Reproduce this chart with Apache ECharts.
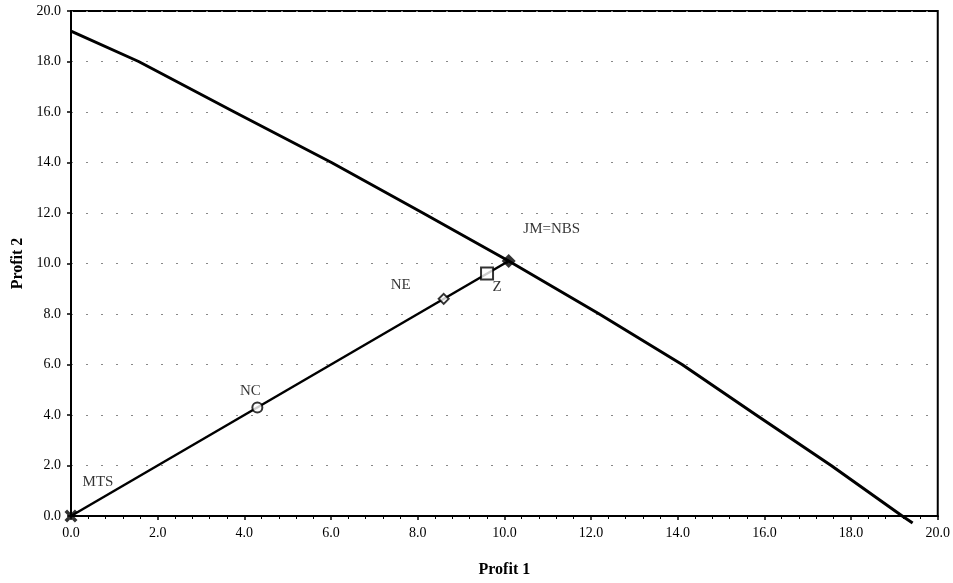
<!DOCTYPE html>
<html>
<head>
<meta charset="utf-8">
<script src="https://cdn.jsdelivr.net/npm/echarts@6/dist/echarts.min.js"></script>
<style>html,body{margin:0;padding:0;background:#fff;}#c{width:953px;height:583px;}</style>
</head>
<body>
<div id="c"></div>
<script>
// Data
const frontierX = [0, 1.56, 3.77, 6.01, 8.12, 10.1, 12.19, 14.1, 15.81, 17.54, 19.18, 19.42];
const frontierY = [19.2, 18.0, 16.0, 14.0, 12.0, 10.1, 8.0, 6.0, 4.0, 2.0, 0.0, -0.28];
const rayX = [0, 10.1];
const rayY = [0, 10.1];
const pointNames = ['MTS', 'NC', 'NE', 'Z', 'JM=NBS'];
const pointX = [0, 4.3, 8.6, 9.6, 10.1];
const pointY = [0, 4.3, 8.6, 9.6, 10.1];
const axisMin = 0, axisMax = 20, axisStep = 2;
const xTitle = 'Profit 1', yTitle = 'Profit 2';

const FONT = '"Liberation Serif", "DejaVu Serif", serif';
const xShape = 'path://M0,2L2,0L5,3L8,0L10,2L7,5L10,8L8,10L5,7L2,10L0,8L3,5Z';

// marker styles per point (visual only)
const markerStyle = {
  'MTS':    { symbol: xShape, size: 13, fill: '#000', offset: [27, -34] },
  'NC':     { symbol: 'circle', size: 10, fill: '#fff', offset: [-7, -16] },
  'NE':     { symbol: 'diamond', size: 10, fill: '#fff', offset: [-43, -14] },
  'Z':      { symbol: 'rect', size: 12, fill: '#fff', offset: [10, 13] },
  'JM=NBS': { symbol: 'diamond', size: 14, fill: '#000', offset: [43, -32] }
};

const pts = pointNames.map((n, i) => {
  const s = markerStyle[n];
  return {
    name: n,
    value: [pointX[i], pointY[i]],
    symbol: s.symbol,
    symbolSize: s.size,
    itemStyle: { color: s.fill, borderColor: '#000', borderWidth: s.fill === '#fff' ? 2 : 0 },
    label: { show: true, position: 'inside', offset: s.offset, formatter: n,
             color: '#000', textBorderWidth: 0, fontFamily: FONT, fontSize: 15 }
  };
});

const chart = echarts.init(document.getElementById('c'), null, { renderer: 'canvas' });
chart.setOption({
  backgroundColor: '#fff',
  animation: false,
  grid: { left: 71, right: 15, top: 11, bottom: 65, show: true, borderColor: '#000', borderWidth: 2, backgroundColor: 'transparent' },
  xAxis: {
    type: 'value', min: axisMin, max: axisMax, interval: axisStep,
    name: xTitle, nameLocation: 'middle', nameGap: 46,
    nameTextStyle: { fontFamily: FONT, fontSize: 16, fontWeight: 'bold', color: '#000' },
    axisLine: { show: true, onZero: false, lineStyle: { color: '#000', width: 2 } },
    axisTick: { show: true, length: 4, lineStyle: { color: '#000', width: 1.5 } },
    minorTick: { show: true, splitNumber: 5, length: 3, lineStyle: { color: '#000', width: 1 } },
    axisLabel: { fontFamily: FONT, fontSize: 14, color: '#000', margin: 10, formatter: v => v.toFixed(1) },
    splitLine: { show: false }
  },
  yAxis: {
    type: 'value', min: axisMin, max: axisMax, interval: axisStep,
    name: yTitle, nameLocation: 'middle', nameGap: 44,
    nameTextStyle: { fontFamily: FONT, fontSize: 16, fontWeight: 'bold', color: '#000' },
    axisLine: { show: true, onZero: false, lineStyle: { color: '#000', width: 2 } },
    axisTick: { show: true, length: 4, lineStyle: { color: '#000', width: 1.5 } },
    axisLabel: { fontFamily: FONT, fontSize: 14, color: '#000', margin: 10, formatter: v => v.toFixed(1) },
    splitLine: { show: true, lineStyle: { color: '#888', width: 1, type: [2, 13] } }
  },
  series: [
    {
      type: 'line', data: frontierX.map((x, i) => [x, frontierY[i]]),
      showSymbol: false, clip: false, smooth: false,
      lineStyle: { color: '#000', width: 3, join: 'round' }, z: 2
    },
    {
      type: 'line', data: rayX.map((x, i) => [x, rayY[i]]),
      showSymbol: false, clip: false,
      lineStyle: { color: '#000', width: 2.5 }, z: 2
    },
    {
      type: 'scatter', data: pts, clip: false, z: 5
    }
  ]
});
</script>
</body>
</html>
